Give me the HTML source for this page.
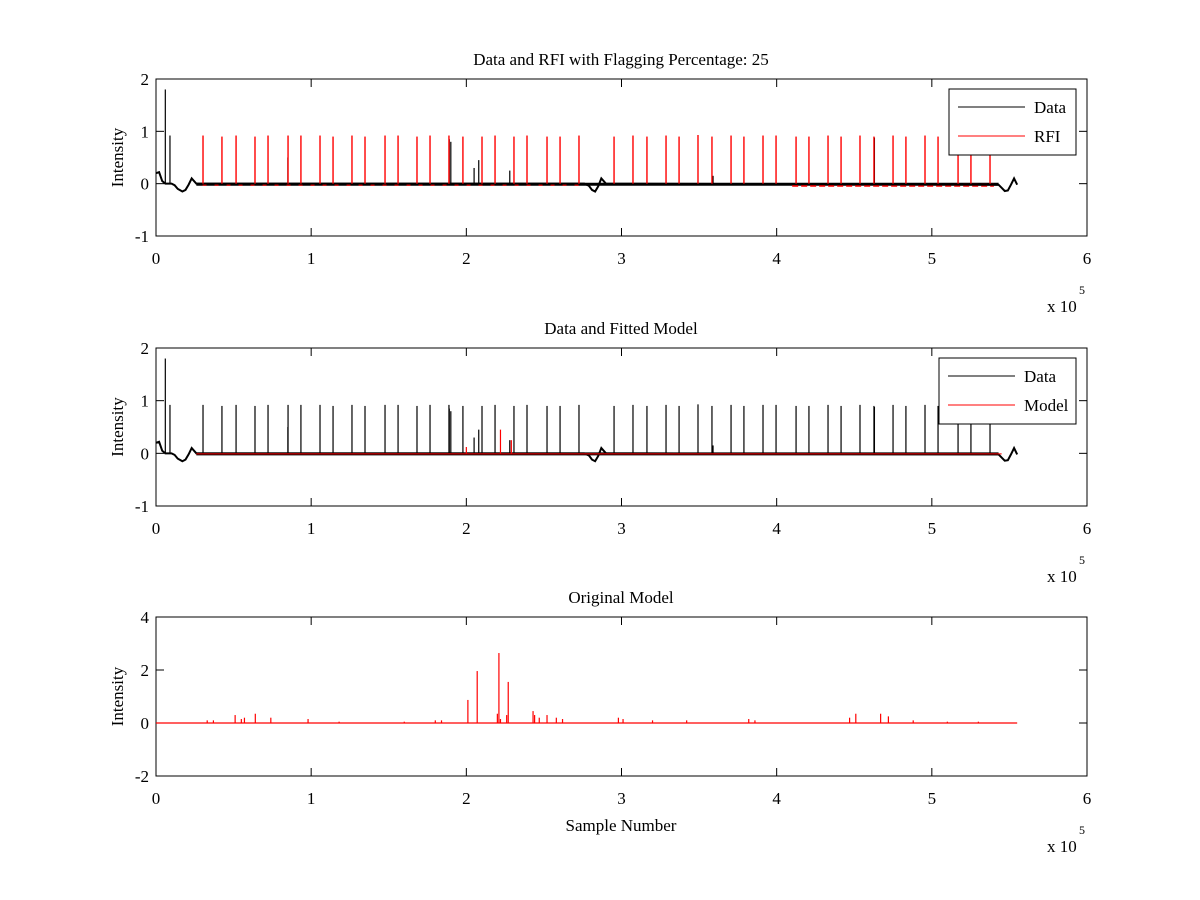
<!DOCTYPE html>
<html><head><meta charset="utf-8">
<style>
html,body{margin:0;padding:0;background:#fff;}
svg{display:block;font-family:"Liberation Serif",serif;}
</style></head>
<body>
<svg id="fig" width="1200" height="900" viewBox="0 0 1200 900"></svg>
<script>
// x-values in units of 1e5 samples
const rfiX = [0.303,0.425,0.516,0.638,0.722,0.851,0.934,1.057,1.141,1.263,1.347,1.476,1.560,1.682,1.766,1.888,1.978,2.101,2.185,2.307,2.391,2.520,2.604,2.726,2.952,3.074,3.164,3.287,3.371,3.493,3.583,3.706,3.789,3.912,3.996,4.125,4.208,4.331,4.415,4.537,4.627,4.750,4.833,4.956,5.040,5.169,5.252,5.375];
const rfiY = [0.92,0.9,0.92,0.9,0.92,0.92,0.92,0.92,0.9,0.92,0.9,0.92,0.92,0.9,0.92,0.92,0.9,0.9,0.92,0.9,0.92,0.9,0.9,0.92,0.9,0.92,0.9,0.92,0.9,0.93,0.9,0.92,0.9,0.92,0.92,0.9,0.9,0.92,0.9,0.92,0.9,0.92,0.9,0.92,0.9,0.92,0.9,0.9];
const dataSpikeX = [0.06,0.09,0.85,1.89,1.9,2.05,2.08,2.28,3.59,4.63];
const dataSpikeY = [1.8,0.92,0.5,0.85,0.8,0.3,0.45,0.25,0.15,0.88];
const baseX = [0,0.02,0.04,0.06,0.10,0.12,0.14,0.17,0.19,0.21,0.23,0.26,2.76,2.79,2.81,2.83,2.85,2.87,2.90,5.43,5.45,5.47,5.49,5.51,5.53,5.55];
const baseY = [0.2,0.22,0.05,0.0,0.0,-0.03,-0.1,-0.15,-0.12,-0.02,0.1,0.0,0.0,-0.04,-0.12,-0.15,-0.05,0.1,0.0,-0.02,-0.08,-0.14,-0.13,-0.02,0.1,-0.02];
const modelSmallX = [2.0,2.22,2.29];
const modelSmallY = [0.12,0.45,0.25];
const origX = [0.33,0.37,0.51,0.55,0.57,0.64,0.74,0.98,1.18,1.6,1.8,1.84,2.01,2.07,2.2,2.21,2.22,2.26,2.27,2.43,2.44,2.47,2.52,2.58,2.62,2.98,3.01,3.2,3.42,3.82,3.86,4.47,4.51,4.67,4.72,4.88,5.1,5.3];
const origY = [0.1,0.1,0.3,0.15,0.2,0.35,0.2,0.15,0.05,0.05,0.1,0.1,0.87,1.96,0.35,2.64,0.15,0.3,1.55,0.45,0.3,0.2,0.3,0.2,0.15,0.2,0.15,0.1,0.1,0.15,0.1,0.2,0.35,0.35,0.25,0.1,0.05,0.05];
const xTicks = [0,1,2,3,4,5,6];

const svg = document.getElementById('fig');
const NS = 'http://www.w3.org/2000/svg';
function mk(tag, attrs, parent){const e=document.createElementNS(NS,tag);for(const k in attrs)e.setAttribute(k,attrs[k]);(parent||svg).appendChild(e);return e;}
function txt(s,x,y,anchor,name,extra){const t=mk('text',Object.assign({x:x,y:y,'text-anchor':anchor,'font-size':17,fill:'#000'},extra||{}));t.textContent=s;return t;}

const L=156,R=1087;
function sx(v){return L+(v/6)*(R-L);}
function axes(top,bot,ymin,ymax,yticks,title,name){
  const sy=v=>bot-(v-ymin)/(ymax-ymin)*(bot-top);
  const g=mk('g',{});
  
  
  mk('rect',{x:L,y:top,width:R-L,height:bot-top,fill:'#fff',stroke:'#000','stroke-width':1},g);
  xTicks.forEach(v=>{const x=sx(v);mk('line',{x1:x,y1:bot,x2:x,y2:bot-8,stroke:'#000'},g);mk('line',{x1:x,y1:top,x2:x,y2:top+8,stroke:'#000'},g);
    txt(String(v),x,bot+28,'middle','x-tick-label');});
  yticks.forEach(v=>{const y=sy(v);mk('line',{x1:L,y1:y,x2:L+8,y2:y,stroke:'#000'},g);mk('line',{x1:R,y1:y,x2:R-8,y2:y,stroke:'#000'},g);
    txt(String(v),L-7,y+6,'end','y-tick-label');});
  txt(title,621,top-14,'middle','axes-title');
  txt('Intensity',123,(top+bot)/2,'middle','y-axis-title',{transform:'rotate(-90 123 '+((top+bot)/2)+')'});
  txt('x 10',1047,bot+76,'start','x-exponent-label');
  txt('5',1079,bot+58,'start','x-exponent-power',{'font-size':12});
  return sy;
}
function baseline(sy,color,w,name){
  const pts=baseX.map((x,i)=>sx(x)+','+sy(baseY[i])).join(' ');
  const p=mk('polyline',{points:pts,fill:'none',stroke:color,'stroke-width':w});
  
}
function spikes(xs,ys,sy,color,w,name){
  xs.forEach((x,i)=>{const l=mk('line',{x1:sx(x),x2:sx(x),y1:sy(0),y2:sy(ys[i]),stroke:color,'stroke-width':w});
    });
}
function legend(x,y,w,labels,colors,name){
  const g=mk('g',{});
  mk('rect',{x:x,y:y,width:w,height:66,fill:'#fff',stroke:'#000'},g);
  labels.forEach((s,i)=>{const yy=y+18+i*29;mk('line',{x1:x+9,x2:x+76,y1:yy,y2:yy,stroke:colors[i]},g);
    txt(s,x+85,yy+6,'start','legend-entry');});
}

// Panel 1
const sy1=axes(79,236,-1,2,[2,1,0,-1],'Data and RFI with Flagging Percentage: 25','rfi-axes');
mk('polyline',{points:sx(0.26)+','+sy1(-0.01)+' '+sx(5.43)+','+sy1(-0.01),stroke:'#000','stroke-width':3,fill:'none'});
mk('polyline',{points:sx(0.3)+','+sy1(-0.02)+' '+sx(2.75)+','+sy1(-0.02),stroke:'#e00','stroke-width':2,'stroke-dasharray':'4 8',fill:'none'});
mk('polyline',{points:sx(4.1)+','+sy1(-0.03)+' '+sx(5.4)+','+sy1(-0.03),stroke:'#f00','stroke-width':3,'stroke-dasharray':'6 3',fill:'none'});
baseline(sy1,'#000',2,'data-line');
spikes(dataSpikeX,dataSpikeY,sy1,'#000',1.2,'data-spike');
spikes(rfiX,rfiY,sy1,'#f00',1.4,'rfi-spike');
legend(949,89,127,['Data','RFI'],['#000','#f00'],'rfi-legend');

// Panel 2
const sy2=axes(348,506,-1,2,[2,1,0,-1],'Data and Fitted Model','model-axes');
mk('polyline',{points:sx(0.26)+','+sy2(-0.01)+' '+sx(5.43)+','+sy2(-0.01),stroke:'#000','stroke-width':3,fill:'none'});
baseline(sy2,'#000',2,'data-line');
spikes(dataSpikeX,dataSpikeY,sy2,'#000',1.2,'data-spike');
spikes(rfiX,rfiY,sy2,'#000',1.2,'data-spike');
mk('polyline',{points:sx(0.26)+','+sy2(-0.01)+' '+sx(5.45)+','+sy2(-0.01),stroke:'#f00','stroke-width':1,fill:'none'});
spikes(modelSmallX,modelSmallY,sy2,'#f00',1.2,'model-spike');
legend(939,358,137,['Data','Model'],['#000','#f00'],'model-legend');

// Panel 3
const sy3=axes(617,776,-2,4,[4,2,0,-2],'Original Model','original-axes');
mk('line',{x1:sx(0),x2:sx(5.55),y1:sy3(0),y2:sy3(0),stroke:'#f00','stroke-width':1.3});
spikes(origX,origY,sy3,'#f00',1.2,'original-model-spike');
txt('Sample Number',621,831,'middle','x-axis-title');
</script>
</body></html>
